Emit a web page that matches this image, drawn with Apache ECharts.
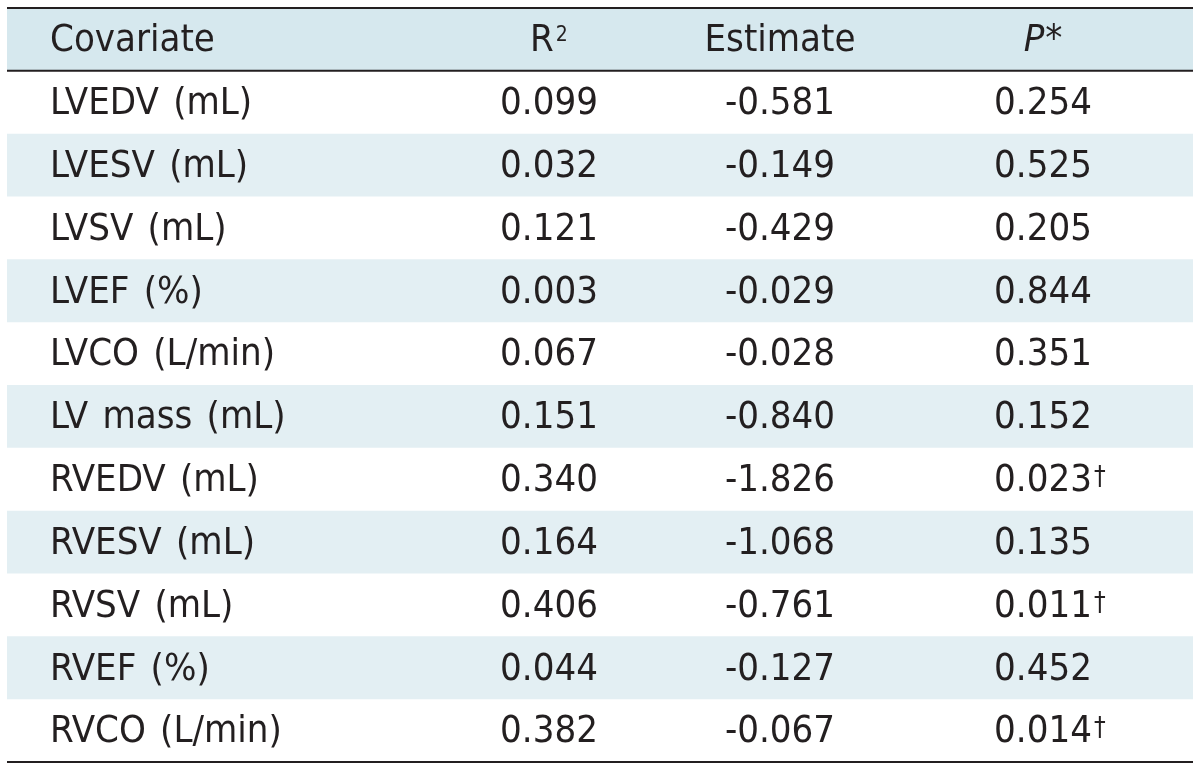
<!DOCTYPE html>
<html><head><meta charset="utf-8">
<script src="https://cdn.jsdelivr.net/npm/echarts@6/dist/echarts.min.js"></script>
<style>html,body{margin:0;padding:0;background:#fff}#c{width:1200px;height:770px}</style>
</head><body><div id="c"></div>
<script>
const headers = ['Covariate', 'R', 'Estimate', 'P'];
const headerMarks = ['', '2', '', '*'];
const covariates = ['LVEDV (mL)', 'LVESV (mL)', 'LVSV (mL)', 'LVEF (%)', 'LVCO (L/min)', 'LV mass (mL)',
  'RVEDV (mL)', 'RVESV (mL)', 'RVSV (mL)', 'RVEF (%)', 'RVCO (L/min)'];
const rSquared = [0.099, 0.032, 0.121, 0.003, 0.067, 0.151, 0.340, 0.164, 0.406, 0.044, 0.382];
const estimates = [-0.581, -0.149, -0.429, -0.029, -0.028, -0.840, -1.826, -1.068, -0.761, -0.127, -0.067];
const pValues = [0.254, 0.525, 0.205, 0.844, 0.351, 0.152, 0.023, 0.135, 0.011, 0.452, 0.014];
const significant = [false, false, false, false, false, false, true, false, true, false, true];

// layout (not data)
const colAnchor = [43, 542, 773, 1036];
const colAlign = ['left', 'center', 'center', 'center'];
const FAM = '"Liberation Sans Narrow", "DejaVu Sans Condensed", sans-serif';
const FS = 38;
const TXT = '#231f20';

const measureCtx = document.createElement('canvas').getContext('2d');
function textWidth(t, font) { measureCtx.font = font; return measureCtx.measureText(t).width; }

const rowNames = ['header'].concat(covariates);
const cells = [];
headers.forEach((h, c) => cells.push({ value: [c, 0], text: h, mark: headerMarks[c], italic: c === 3, header: true }));
covariates.forEach((name, i) => {
  const r = i + 1;
  cells.push({ value: [0, r], text: name.replace(/ /g, ' \u200A'), mark: '' });
  cells.push({ value: [1, r], text: rSquared[i].toFixed(3), mark: '' });
  cells.push({ value: [2, r], text: estimates[i].toFixed(3), mark: '' });
  cells.push({ value: [3, r], text: pValues[i].toFixed(3), mark: significant[i] ? '\u2020' : '' });
});

const SUP_FONT = '21px ' + FAM;
const DAG_FONT = '26px ' + FAM;

const chart = echarts.init(document.getElementById('c'), null, { renderer: 'canvas' });
chart.setOption({
  animation: false,
  grid: { left: 7, right: 7, top: 8, bottom: 8 },
  xAxis: { type: 'value', min: 0, max: 1186, show: false },
  yAxis: { type: 'category', data: rowNames, inverse: true, show: false },
  series: [
    {
      type: 'custom',
      silent: true,
      data: rowNames.map((n, i) => [0, i]),
      renderItem: function (params, api) {
        const r = api.value(1);
        const left = api.coord([0, r]);
        const right = api.coord([1186, r]);
        const h = api.size([0, 1])[1];
        const top = left[1] - h / 2;
        const children = [];
        let fill = null;
        if (r === 0) fill = '#d6e8ee';
        else if (r % 2 === 0) fill = '#e3eff3';
        if (fill) children.push({ type: 'rect', shape: { x: left[0], y: top, width: right[0] - left[0], height: h }, style: { fill: fill } });
        if (r === 0) {
          children.push({ type: 'line', shape: { x1: left[0], y1: top, x2: right[0], y2: top }, style: { stroke: TXT, lineWidth: 2 } });
          children.push({ type: 'line', shape: { x1: left[0], y1: top + h, x2: right[0], y2: top + h }, style: { stroke: TXT, lineWidth: 2 } });
        }
        if (r === rowNames.length - 1) {
          children.push({ type: 'line', shape: { x1: left[0], y1: top + h, x2: right[0], y2: top + h }, style: { stroke: TXT, lineWidth: 2 } });
        }
        return { type: 'group', children: children };
      },
      z: 1
    },
    {
      type: 'custom',
      silent: true,
      data: cells,
      renderItem: function (params, api) {
        const d = cells[params.dataIndex];
        const c = api.value(0), r = api.value(1);
        const p = api.coord([colAnchor[c], r]);
        const font = (d.italic ? 'italic ' : '') + FS + 'px ' + FAM;
        const y = p[1] + 2;
        if (!d.mark) {
          return { type: 'text', style: { text: d.text, x: p[0], y: y, align: colAlign[c], verticalAlign: 'middle', font: font, fill: TXT } };
        }
        const w = textWidth(d.text, font);
        let markFont, markDy, markVA, gap;
        if (d.mark === '2') { markFont = SUP_FONT; markDy = -16; markVA = 'top'; gap = 2; }
        else if (d.mark === '\u2020') { markFont = DAG_FONT; markDy = -16; markVA = 'top'; gap = 2; }
        else { markFont = FS + 'px ' + FAM; markDy = 0; markVA = 'middle'; gap = 1; }
        const mw = textWidth(d.mark, markFont);
        // headers: centre the whole label; values: centre the number, mark hangs right
        const x0 = d.header ? p[0] - (w + gap + mw) / 2 : p[0] - w / 2;
        return {
          type: 'group',
          children: [
            { type: 'text', style: { text: d.text, x: x0, y: y, align: 'left', verticalAlign: 'middle', font: font, fill: TXT } },
            { type: 'text', style: { text: d.mark, x: x0 + w + gap, y: y + markDy, align: 'left', verticalAlign: markVA, font: markFont, fill: TXT } }
          ]
        };
      },
      z: 2
    }
  ]
});
</script></body></html>
